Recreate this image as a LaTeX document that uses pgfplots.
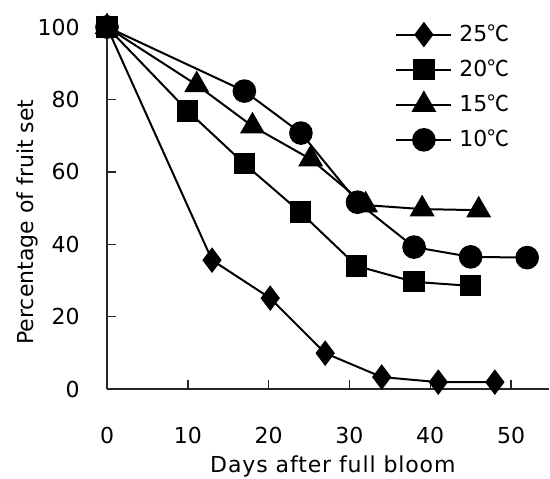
\documentclass[border=0pt]{standalone}
\usepackage{pgfplots}
\pgfplotsset{compat=1.18}
\usepackage{fontspec}
\setmainfont{DejaVu Sans}
\newfontfamily\spaced[LetterSpace=4]{DejaVu Sans}
\newfontfamily\cjk{Noto Sans CJK JP}
\begin{document}
\fontsize{11pt}{13pt}\selectfont
\begin{tikzpicture}
\begin{axis}[
    scale only axis,
    width=221pt, height=181pt,
    xmin=0, xmax=54.7, ymin=0, ymax=100,
    axis x line*=bottom, axis y line*=left,
    axis line style={black!85, line width=0.8pt},
    tick align=inside,
    major tick length=4.5pt,
    tick style={black!85, line width=0.7pt},
    xtick={0,10,20,30,40,50},
    ytick={0,20,40,60,80,100},
    /pgf/number format/assume math mode=true,
    ticklabel style={font=\fontsize{11pt}{13pt}\selectfont},
    xticklabel style={yshift=-15pt},
    yticklabel style={xshift=-9.8pt},
    xlabel={\spaced Days after full bloom},
    ylabel={Percentage of fruit set},
    every axis x label/.style={at={(axis description cs:0.511,-0.213)},anchor=center},
    every axis y label/.style={at={(axis description cs:-0.181,0.461)},rotate=90,anchor=center},
    clip=false,
    every axis plot/.append style={black, line width=1pt, mark options={solid, fill=black}},
    legend style={draw=none, fill=none, at={(0.638,1.03)}, anchor=north west,
        row sep=3.5pt, font=\fontsize{11pt}{13pt}\selectfont,
        /tikz/every even column/.append style={column sep=0pt},
        nodes={inner xsep=3.5pt}},
    legend cell align=left,
    legend image code/.code={
        \draw[mark repeat=2, mark phase=2, #1] plot coordinates {(0pt,0pt) (13.75pt,0pt) (27.5pt,0pt)};
    },
]
\addplot[mark=diamond*, mark size=5.6pt] coordinates {
    (0,100) (13,35.6) (20.2,25.1) (27,9.9) (34,3.3) (41,1.9) (48,1.9)
};
\addlegendentry{25{\cjk ℃}}
\addplot[mark=square*, mark size=4.8pt] coordinates {
    (0,100) (10,76.8) (17,62.2) (23.9,48.9) (30.9,34.0) (38,29.6) (45,28.5)
};
\addlegendentry{20{\cjk ℃}}
\addplot[mark=triangle*, mark size=6.2pt] coordinates {
    (0,100) (11.1,84) (18,72.6) (25.2,63.5) (32,50.8) (39,49.7) (46,49.4)
};
\addlegendentry{15{\cjk ℃}}
\addplot[mark=*, mark size=5.4pt] coordinates {
    (0,100) (17,82.3) (24,70.7) (31,51.6) (38,39.2) (45,36.5) (52,36.3)
};
\addlegendentry{10{\cjk ℃}}
\end{axis}
\pgfresetboundingbox
\path[use as bounding box] (-53.5pt,-44.5pt) rectangle (221.5pt,194.5pt);
\end{tikzpicture}
\end{document}
